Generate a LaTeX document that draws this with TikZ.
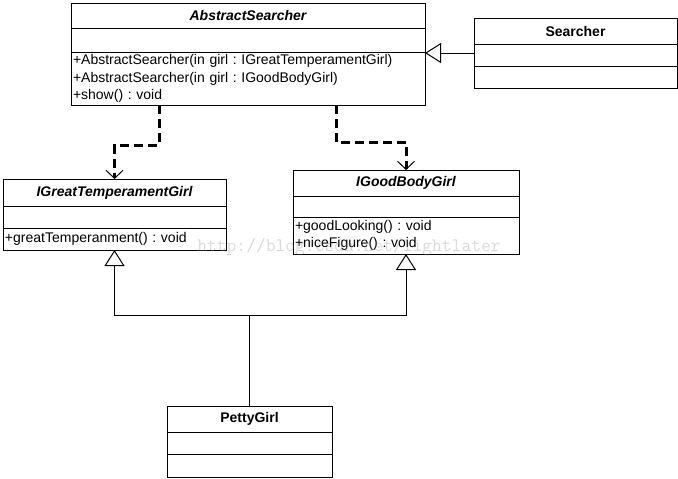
\documentclass[tikz,border=0pt]{standalone}
\usepackage{fontspec}
\setmainfont{Liberation Sans}
\usetikzlibrary{arrows.meta,positioning}
\frenchspacing

\tikzset{
	box/.style={draw, line width=1pt, inner sep=0pt, outer sep=0pt, minimum width=#1},
	ops/.style={text width=#1, align=left, inner xsep=2pt},
	title/.style={font=\fontsize{14}{17.5}\selectfont\bfseries},
	abstitle/.style={font=\fontsize{14}{17.5}\selectfont\bfseries\itshape},
	gen/.style={line width=1pt, -{Triangle[open, length=16pt, width=20pt, line width=1pt]}},
	dep/.style={line width=3pt, dash pattern=on 9pt off 5pt, -{Straight Barb[length=8pt, width=17pt, line width=1pt]}}
}

\begin{document}
\begin{tikzpicture}[x=1pt, y=-1pt, font=\fontsize{14}{17.5}\selectfont]
		\useasboundingbox (0,0) rectangle (678,479);
		% AbstractSearcher
		\node[box=354, minimum height=25, anchor=north west, abstitle] (abs) at (71,3) {AbstractSearcher};
		\node[box=354, minimum height=24, below=0pt of abs] (absattr) {};
		\node[box=354, minimum height=53, below=0pt of absattr, ops=350] (absops) {+AbstractSearcher(in girl : IGreatTemperamentGirl)\\+AbstractSearcher(in girl : IGoodBodyGirl)\\+show() : void};
		% Searcher
		\node[box=203, minimum height=26, anchor=north west, title] (srch) at (474,18) {Searcher};
		\node[box=203, minimum height=22, below=0pt of srch] (srchattr) {};
		\node[box=203, minimum height=22, below=0pt of srchattr] (srchops) {};
		% IGreatTemperamentGirl
		\node[box=223, minimum height=27, anchor=north west, abstitle] (igt) at (3,179) {IGreatTemperamentGirl};
		\node[box=223, minimum height=22, below=0pt of igt] (igtattr) {};
		\node[box=223, minimum height=22, below=0pt of igtattr, ops=219] (igtops) {+greatTemperanment() : void};
		% IGoodBodyGirl
		\node[box=226, minimum height=26, anchor=north west, abstitle] (igb) at (293,170) {IGoodBodyGirl};
		\node[box=226, minimum height=21, below=0pt of igb] (igbattr) {};
		\node[box=226, minimum height=37, below=0pt of igbattr, ops=222] (igbops) {+goodLooking() : void\\+niceFigure() : void};
		% PettyGirl
		\node[box=165, minimum height=26, anchor=north west, title] (pg) at (167,406) {PettyGirl};
		\node[box=165, minimum height=22, below=0pt of pg] (pgattr) {};
		\node[box=165, minimum height=23, below=0pt of pgattr] (pgops) {};

		\draw[gen] ([yshift=2pt]srchattr.west) -- ([yshift=2pt]srchattr.west -| absops.east);
		\draw[dep] ([xshift=-89pt]absops.south) -- ++(0,40) -| (igt.north);
		\draw[dep] ([xshift=88pt]absops.south) -- ++(0,37) -| (igb.north);
		\draw[line width=1pt] (pg.north) -- ++(0,-91) coordinate (join);
		\draw[gen] (join) -| (igtops.south);
		\draw[gen] (join) -| (igbops.south);

		\node[text=gray, opacity=0.3, font=\ttfamily\fontsize{19}{19}\selectfont] (mark) at (349,247) {http://blog.csdn.net/lightlater};
	\end{tikzpicture}
\end{document}
